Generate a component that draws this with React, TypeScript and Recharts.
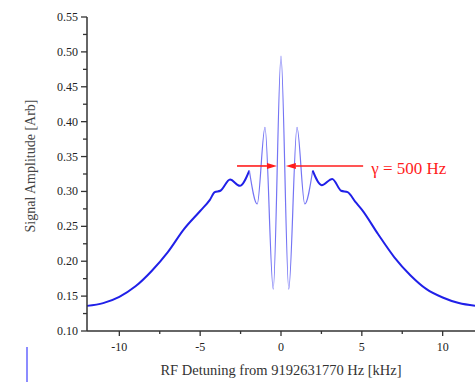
import React from "react";
import { LineChart, Line, XAxis, YAxis, ReferenceLine } from "recharts";

// outer envelope (left), Ramsey fringes (centre), outer envelope (right)
const leftDetuning = [-12, -11, -10, -9, -8, -7, -6, -5, -4.4, -4.1, -3.75, -3.15, -2.55, -1.96];
const leftSignal = [0.136, 0.140, 0.149, 0.164, 0.186, 0.213, 0.246, 0.272, 0.288, 0.299, 0.301, 0.317, 0.308, 0.330];

const fringeDetuning = [-1.96, -1.47, -0.99, -0.48, 0, 0.48, 0.99, 1.47, 1.96];
const fringeSignal = [0.330, 0.282, 0.392, 0.160, 0.494, 0.160, 0.392, 0.282, 0.330];

const rightDetuning = [1.96, 2.52, 3.17, 3.72, 4.12, 4.6, 5, 6, 7, 8, 9, 10, 11, 12];
const rightSignal = [0.330, 0.309, 0.318, 0.301, 0.299, 0.285, 0.274, 0.239, 0.206, 0.180, 0.160, 0.148, 0.140, 0.136];

const xTicks = [-10, -7.5, -5, -2.5, 0, 2.5, 5, 7.5, 10];
const yTicks = [0.1, 0.125, 0.15, 0.175, 0.2, 0.225, 0.25, 0.275, 0.3, 0.325, 0.35, 0.375, 0.4, 0.425, 0.45, 0.475, 0.5, 0.525, 0.55];

const arrowY = 0.3365;
const leftArrowX = [-2.72, -0.25];
const rightArrowX = [5.08, 0.3];
const gammaLabel = "γ = 500 Hz";

const toPoints = (xs: number[], ys: number[]) => xs.map((x, i) => ({ x, y: ys[i] }));

const leftData = toPoints(leftDetuning, leftSignal);
const fringeData = toPoints(fringeDetuning, fringeSignal);
const rightData = toPoints(rightDetuning, rightSignal);

const FONT = "'Liberation Serif', 'Times New Roman', serif";
const AXIS = "#333";
const RED = "#ff1c1c";

const XTick = (props: any) => {
  const { x, y, payload } = props;
  const major = payload.value % 5 === 0;
  return (
    <g>
      <line x1={x} y1={y} x2={x} y2={y + (major ? 5 : 3)} stroke={AXIS} strokeWidth={1.3} />
      {major && (
        <text x={x} y={y + 20} textAnchor="middle" fontFamily={FONT} fontSize={12} fill="#222">
          {payload.value}
        </text>
      )}
    </g>
  );
};

const YTick = (props: any) => {
  const { x, y, payload } = props;
  const major = Math.round(payload.value * 1000) % 50 === 0;
  return (
    <g>
      <line x1={x} y1={y} x2={x - (major ? 6 : 4)} y2={y} stroke={AXIS} strokeWidth={1.3} />
      {major && (
        <text x={x - 9} y={y + 4} textAnchor="end" fontFamily={FONT} fontSize={12} fill="#222">
          {payload.value.toFixed(2)}
        </text>
      )}
    </g>
  );
};

const Arrow = (props: any) => {
  const { x1, y1, x2, y2, text } = props;
  const dir = Math.sign(x2 - x1);
  const head = 10;
  return (
    <g>
      <line x1={x1} y1={y1} x2={x2 - dir * head} y2={y2} stroke={RED} strokeWidth={1.6} />
      <polygon
        points={`${x2},${y2} ${x2 - dir * head},${y2 - 3} ${x2 - dir * head},${y2 + 3}`}
        fill={RED}
      />
      {text && (
        <text x={x1 + 8} y={y1 + 8} fontFamily={FONT} fontSize={17} fill={RED}>
          {text}
        </text>
      )}
    </g>
  );
};

export default function App() {
  return (
    <div style={{ position: "absolute", top: 0, left: 0, width: 475, height: 382, background: "#fff" }}>
      <LineChart width={475} height={382} margin={{ top: 17, right: 0, bottom: 0, left: 0 }}>
        <XAxis
          dataKey="x"
          type="number"
          domain={[-12, 12]}
          ticks={xTicks}
          interval={0}
          tickSize={0}
          tickMargin={0}
          tick={<XTick />}
          axisLine={{ stroke: AXIS, strokeWidth: 1.5 }}
          height={51}
          label={() => (
            <text x={281} y={375} textAnchor="middle" fontFamily={FONT} fontSize={14.5} fill="#333">
              RF Detuning from 9192631770 Hz [kHz]
            </text>
          )}
        />
        <YAxis
          type="number"
          domain={[0.1, 0.55]}
          ticks={yTicks}
          interval={0}
          tickSize={0}
          tickMargin={0}
          tick={<YTick />}
          axisLine={{ stroke: AXIS, strokeWidth: 1.5 }}
          width={87}
          label={() => (
            <text
              x={35}
              y={166}
              textAnchor="middle"
              transform="rotate(-90 35 166)"
              fontFamily={FONT}
              fontSize={14}
              fill="#444"
            >
              Signal Amplitude [Arb]
            </text>
          )}
        />
        <Line data={leftData} dataKey="y" type="monotone" stroke="#2020e8" strokeWidth={2} dot={false} isAnimationActive={false} />
        <Line data={fringeData} dataKey="y" type="monotone" stroke="#7474f4" strokeWidth={1.2} dot={false} isAnimationActive={false} />
        <Line data={rightData} dataKey="y" type="monotone" stroke="#2020e8" strokeWidth={2} dot={false} isAnimationActive={false} />
        <ReferenceLine
          segment={[{ x: leftArrowX[0], y: arrowY }, { x: leftArrowX[1], y: arrowY }]}
          shape={(p: any) => <Arrow {...p} />}
        />
        <ReferenceLine
          segment={[{ x: rightArrowX[0], y: arrowY }, { x: rightArrowX[1], y: arrowY }]}
          shape={(p: any) => <Arrow {...p} text={gammaLabel} />}
        />
      </LineChart>
      <div style={{ position: "absolute", left: 26, top: 347, width: 2, height: 35, background: "#8c8cff" }} />
    </div>
  );
}
